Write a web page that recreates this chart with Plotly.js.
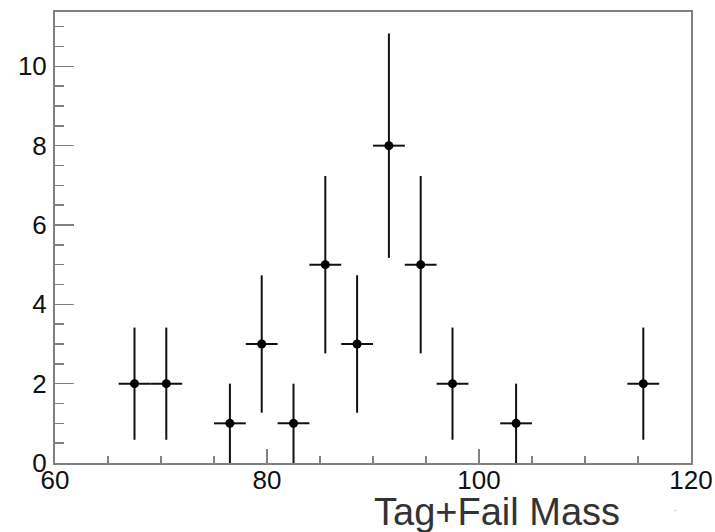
<!DOCTYPE html>
<html>
<head>
<meta charset="utf-8">
<script src="https://cdn.plot.ly/plotly-3.0.1.min.js"></script>
<style>html,body{margin:0;padding:0;background:#fff;}#chart{width:715px;height:532px;}</style>
</head>
<body>
<div id="chart"></div>
<script>
// Bin centers (3 GeV bins from 60 to 120), only non-empty bins shown
const binCenters = [67.5, 70.5, 76.5, 79.5, 82.5, 85.5, 88.5, 91.5, 94.5, 97.5, 103.5, 115.5];
const counts     = [2, 2, 1, 3, 1, 5, 3, 8, 5, 2, 1, 2];
const binHalfWidth = 1.5;
const countErrors = counts.map(c => Math.sqrt(c));
const xTickVals = [60, 80, 100, 120];
const yTickVals = [0, 2, 4, 6, 8, 10];
const xTitle = "Tag+Fail Mass";

const axisGray = "#808080";
const trace = {
  type: "scatter",
  mode: "markers",
  x: binCenters,
  y: counts,
  marker: {color: "#000", size: 9},
  error_x: {type: "constant", value: binHalfWidth, width: 0, thickness: 2, color: "#111"},
  error_y: {type: "data", array: countErrors, visible: true, width: 0, thickness: 2, color: "#111"},
  hoverinfo: "skip"
};
// empty trace so the label-only overlay axis is drawn
const labelAxisTrace = {type: "scatter", mode: "markers", x: [], y: [], xaxis: "x2", yaxis: "y", hoverinfo: "skip"};

const layout = {
  width: 715, height: 532,
  margin: {l: 55, r: 24, t: 12, b: 69},
  paper_bgcolor: "#fff", plot_bgcolor: "#fff",
  showlegend: false,
  font: {family: "Liberation Sans, Arial, sans-serif", color: "#000"},
  xaxis: {
    range: [60, 120], tickvals: xTickVals, showticklabels: false,
    ticks: "inside", ticklen: 14, tickwidth: 1.5, tickcolor: axisGray,
    minor: {dtick: 5, tick0: 60, ticks: "inside", ticklen: 7, tickwidth: 1.5, tickcolor: axisGray, showgrid: false},
    showline: true, linecolor: axisGray, linewidth: 2, mirror: true,
    showgrid: false, zeroline: false
  },
  xaxis2: {
    overlaying: "x", anchor: "free", position: 0.003, side: "bottom",
    range: [60, 120], tickvals: xTickVals, ticktext: xTickVals.map(String),
    ticks: "", showline: false, showgrid: false, zeroline: false,
    tickfont: {size: 26, color: "#111"}
  },
  yaxis: {
    range: [0, 11.37], tickvals: yTickVals, ticktext: yTickVals.map(String),
    ticks: "inside", ticklen: 19, tickwidth: 1.5, tickcolor: axisGray,
    minor: {dtick: 0.5, tick0: 0, ticks: "inside", ticklen: 9, tickwidth: 1.5, tickcolor: axisGray, showgrid: false},
    showline: true, linecolor: axisGray, linewidth: 2, mirror: true,
    showgrid: false, zeroline: false,
    tickfont: {size: 26, color: "#111"}, ticklabelstandoff: 1
  },
  annotations: [
    {text: xTitle, xref: "paper", yref: "paper", x: 0.8915, y: -0.109,
     xanchor: "right", yanchor: "middle", showarrow: false,
     font: {size: 38, color: "#333", family: "Liberation Sans, Arial, sans-serif"}},
    {text: ".", xref: "paper", yref: "paper", x: 0.975, y: -0.1,
     xanchor: "center", yanchor: "middle", showarrow: false,
     font: {size: 8, color: "#555"}}
  ]
};

Plotly.newPlot("chart", [trace, labelAxisTrace], layout, {displayModeBar: false, staticPlot: true});
</script>
</body>
</html>
